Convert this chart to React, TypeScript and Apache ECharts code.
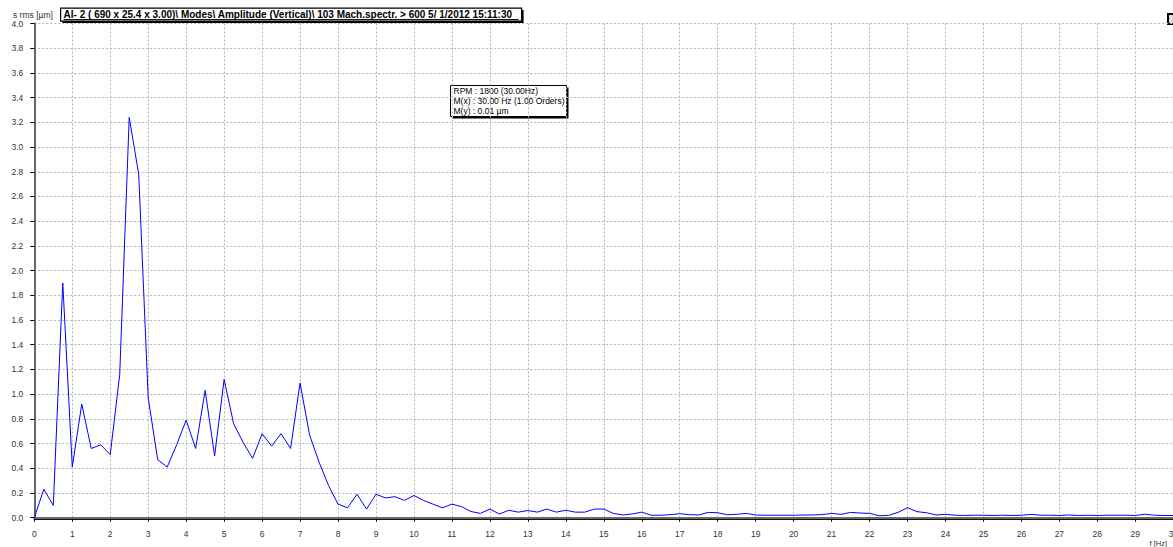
import React, { useEffect, useRef } from "react";
import * as echarts from "echarts";

const FREQ_STEP = 0.25; // spectrum line spacing in Hz
const amplitudes: number[] = [
  0.0, 0.23, 0.1, 1.9, 0.41, 0.92, 0.56, 0.59, 0.51, 1.16, 3.24, 2.78, 0.97, 0.47, 0.41, 0.59,
  0.79, 0.56, 1.03, 0.5, 1.12, 0.76, 0.61, 0.48, 0.68, 0.58, 0.68, 0.56, 1.09, 0.67, 0.45, 0.26,
  0.11, 0.08, 0.19, 0.07, 0.19, 0.16, 0.17, 0.14, 0.18, 0.14, 0.11, 0.08, 0.11, 0.09, 0.05, 0.035,
  0.07, 0.03, 0.06, 0.045, 0.058, 0.045, 0.07, 0.045, 0.06, 0.045, 0.045, 0.07, 0.07, 0.035, 0.022, 0.03,
  0.045, 0.02, 0.02, 0.025, 0.032, 0.025, 0.022, 0.043, 0.04, 0.024, 0.027, 0.035, 0.022, 0.02, 0.02, 0.02,
  0.02, 0.022, 0.022, 0.025, 0.035, 0.027, 0.043, 0.038, 0.035, 0.016, 0.019, 0.043, 0.081, 0.049, 0.04, 0.022,
  0.027, 0.02, 0.018, 0.02, 0.02, 0.018, 0.02, 0.018, 0.02, 0.027, 0.02, 0.02, 0.018, 0.022, 0.018, 0.02,
  0.018, 0.02, 0.02, 0.02, 0.018, 0.028, 0.02, 0.018, 0.018,
];

const yUnitLabel = "s rms [µm]";
const xUnitLabel = "f [Hz]";
const titleText =
  "AI- 2 ( 690 x 25.4 x 3.00)\\ Modes\\ Amplitude (Vertical)\\ 103 Mach.spectr. > 600 5/ 1/2012 15:11:30";
const infoLines = ["RPM : 1800 (30.00Hz)", "M(x) : 30.00 Hz (1.00 Orders)", "M(y) : 0.01 µm"];

const X_MIN = 0;
const X_MAX = 30;
const Y_MIN = 0;
const Y_MAX = 4;

const FONT = "'Liberation Sans', Arial, sans-serif";

export default function App() {
  const ref = useRef<HTMLDivElement>(null);

  useEffect(() => {
    if (!ref.current) return;
    const chart = echarts.init(ref.current, undefined, { renderer: "svg" });
    const data = amplitudes.map((v, i) => [i * FREQ_STEP, v]);
    const dotted = { color: "#b4b4b4", type: [2, 2] as any, width: 1 };

    chart.setOption({
      animation: false,
      backgroundColor: "#ffffff",
      textStyle: { fontFamily: FONT },
      grid: { left: 34.3, right: 5.7, top: 23.5, bottom: 29.3, containLabel: false },
      xAxis: [
        {
          type: "value",
          min: X_MIN,
          max: X_MAX,
          interval: 1,
          position: "bottom",
          offset: 7,
          axisLine: { show: true, lineStyle: { color: "#000", width: 1.5 } },
          axisTick: { show: true, inside: false, length: 4, lineStyle: { color: "#000" } },
          axisLabel: { show: true, color: "#333", fontSize: 8.5, margin: 5, fontFamily: FONT, hideOverlap: false },
          splitLine: { show: true, lineStyle: dotted },
        },
        {
          type: "value",
          min: X_MIN,
          max: X_MAX,
          position: "top",
          axisLine: { show: true, lineStyle: { color: "#111", width: 1.5 } },
          axisTick: { show: false },
          axisLabel: { show: false },
          splitLine: { show: false },
        },
        {
          type: "value",
          min: X_MIN,
          max: X_MAX,
          position: "bottom",
          offset: 2,
          axisLine: { show: true, lineStyle: { color: "#111", width: 1.2 } },
          axisTick: { show: false },
          axisLabel: { show: false },
          splitLine: { show: false },
        },
      ],
      yAxis: [
        {
          type: "value",
          min: Y_MIN,
          max: Y_MAX,
          interval: 0.2,
          position: "left",
          offset: 8,
          axisLine: { show: true, lineStyle: { color: "#444", width: 1.5 } },
          axisTick: { show: true, inside: false, length: 4, lineStyle: { color: "#000" } },
          axisLabel: {
            show: true,
            color: "#333",
            fontSize: 8.5,
            margin: 3,
            fontFamily: FONT,
            formatter: (v: number) => v.toFixed(1),
          },
          splitLine: { show: true, lineStyle: dotted },
        },
        {
          type: "value",
          min: Y_MIN,
          max: Y_MAX,
          position: "left",
          axisLine: { show: true, onZero: false, lineStyle: { color: "#666", width: 2 } },
          axisTick: { show: false },
          axisLabel: { show: false },
          splitLine: { show: false },
        },
      ],
      series: [
        {
          type: "line",
          data,
          xAxisIndex: 0,
          yAxisIndex: 0,
          symbol: "none",
          lineStyle: { color: "#0000ff", width: 1 },
          z: 3,
          markLine: {
            silent: true,
            symbol: "none",
            label: { show: false },
            lineStyle: { color: "#6a6a6a", width: 2, type: "solid" },
            data: [{ yAxis: 0 }],
            z: 2,
          },
        },
      ],
      graphic: [
        {
          type: "text",
          left: 13,
          top: 10,
          style: { text: yUnitLabel, font: `8.5px ${FONT}`, fill: "#333" },
        },
        {
          type: "group",
          left: 60,
          top: 7.5,
          children: [
            { type: "rect", shape: { x: 2, y: 2, width: 461, height: 13 }, style: { fill: "#000" } },
            { type: "rect", shape: { x: 0, y: 0, width: 461, height: 13 }, style: { fill: "#fff", stroke: "#000", lineWidth: 1.2 } },
            { type: "text", x: 3, y: 1.5, style: { text: titleText, font: `bold 10px ${FONT}`, fill: "#000" } },
            { type: "line", shape: { x1: 3, y1: 11.5, x2: 458, y2: 11.5 }, style: { stroke: "#000", lineWidth: 1 } },
          ],
        },
        {
          type: "group",
          left: 1167,
          top: 13,
          children: [
            { type: "rect", shape: { x: 0, y: 0, width: 20, height: 10 }, style: { fill: "#ddd", stroke: "#000", lineWidth: 2 } },
          ],
        },
        {
          type: "group",
          left: 450,
          top: 85,
          children: [
            { type: "rect", shape: { x: 2, y: 2, width: 116, height: 31 }, style: { fill: "#000" } },
            { type: "rect", shape: { x: 0, y: 0, width: 116, height: 31 }, style: { fill: "#fff", stroke: "#000", lineWidth: 1 } },
            ...infoLines.map((t, i) => ({
              type: "text",
              x: 3,
              y: 1 + i * 10.2,
              style: { text: t, font: `8.5px ${FONT}`, fill: "#000" },
            })),
          ],
        },
        {
          type: "text",
          right: 14,
          top: 539,
          style: { text: xUnitLabel, font: `7.5px ${FONT}`, fill: "#333" },
        },
      ],
    });

    return () => chart.dispose();
  }, []);

  return (
    <div style={{ position: "fixed", left: 0, top: 0, width: 1173, height: 547, overflow: "hidden", background: "#fff" }}>
      <div ref={ref} style={{ width: 1181, height: 547 }} />
    </div>
  );
}
